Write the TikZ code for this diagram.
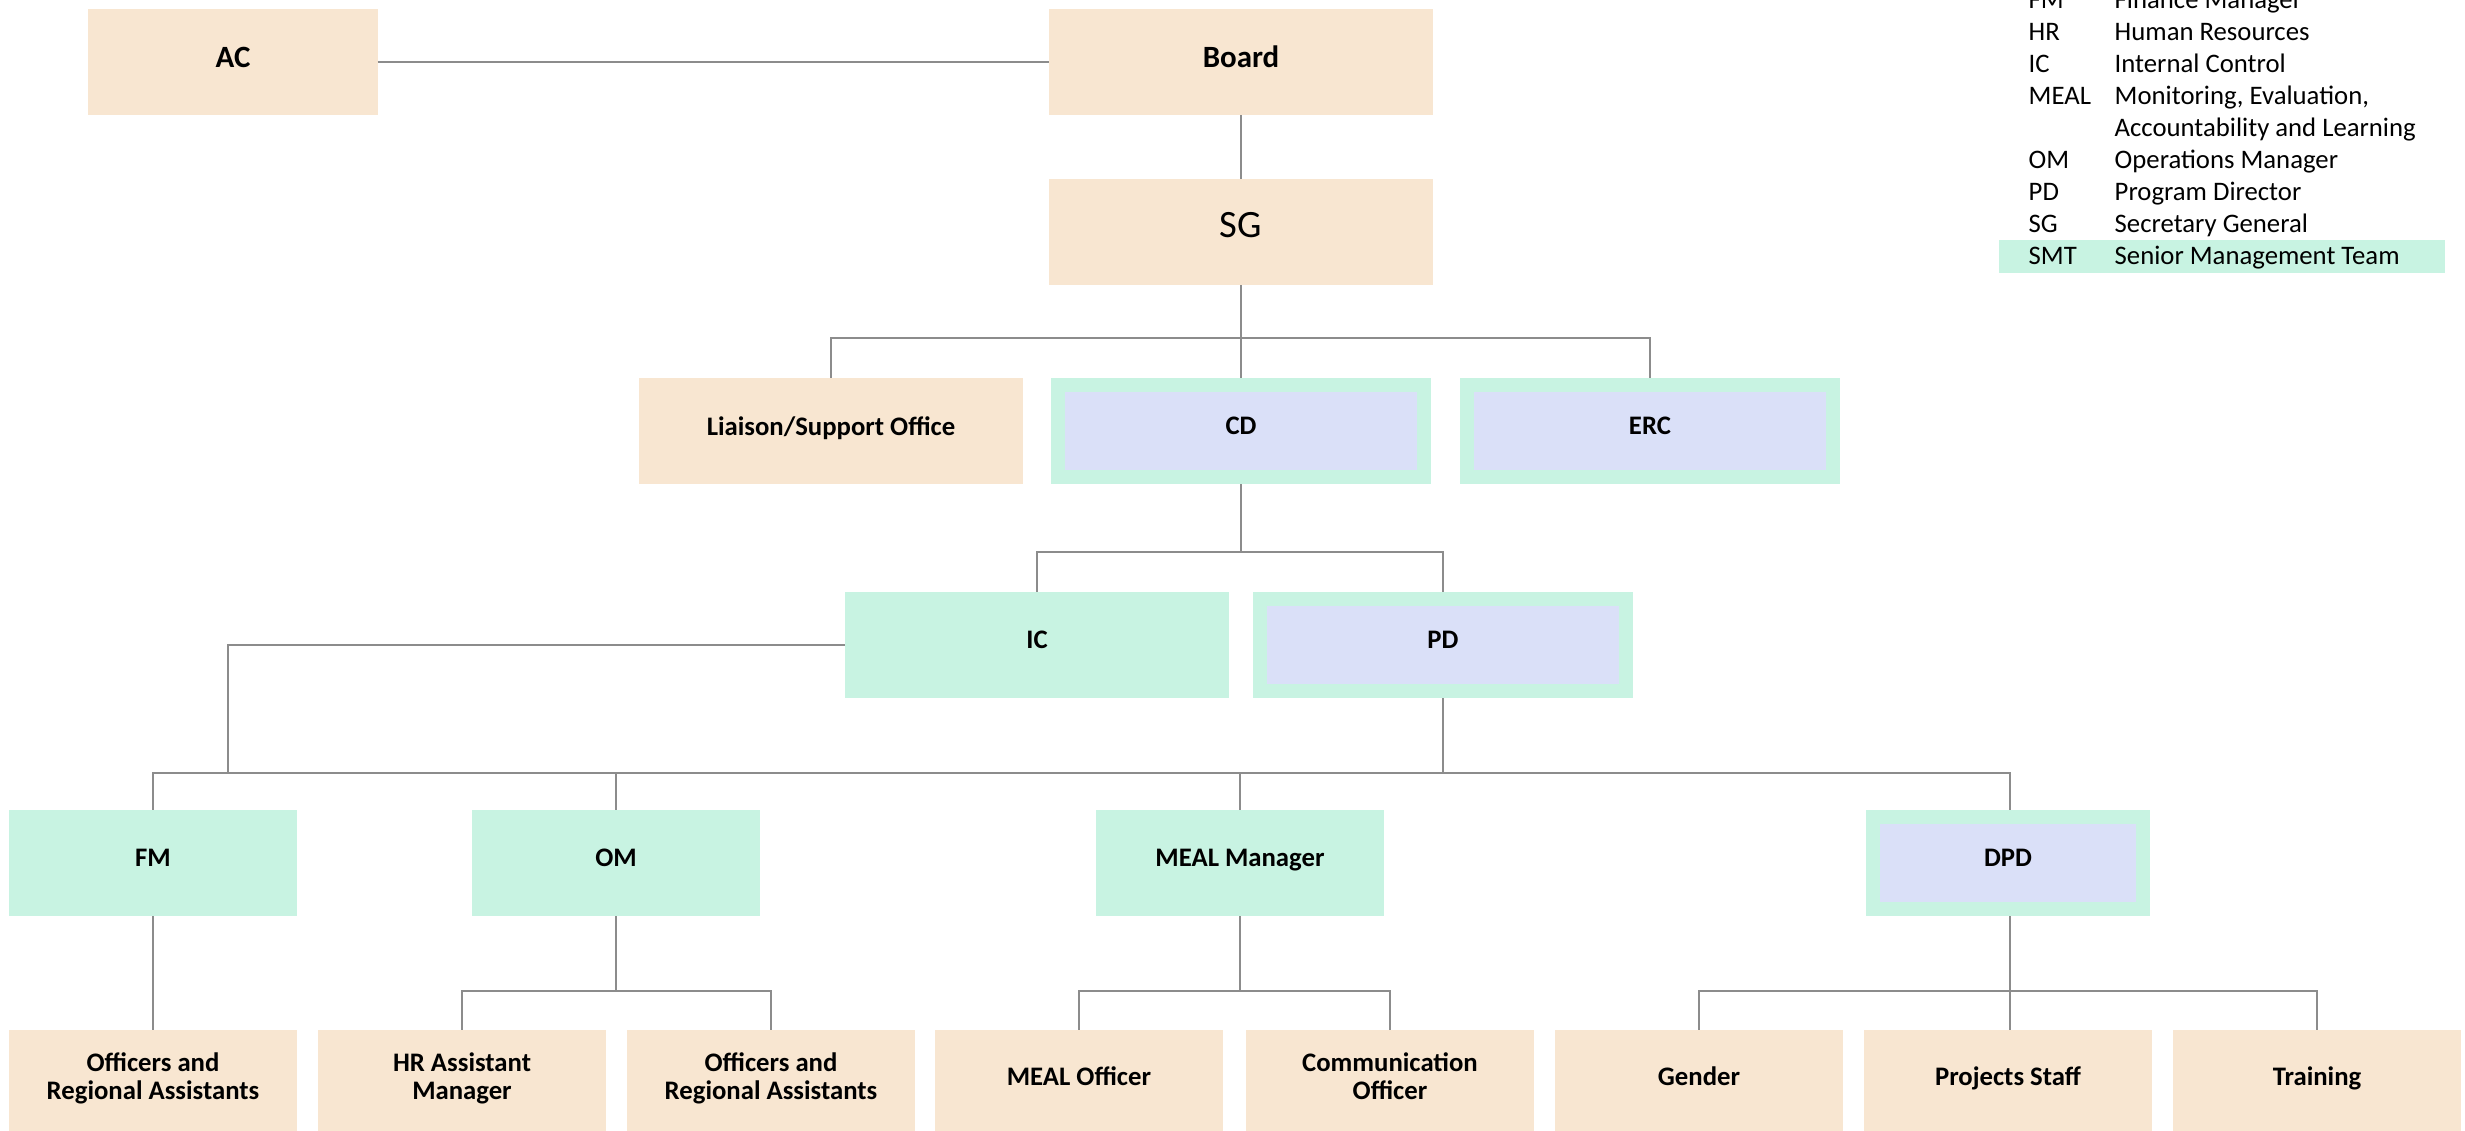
\documentclass[tikz,border=0pt]{standalone}
\usepackage{fontspec}
\setmainfont{Carlito}
\usepackage{tikz}

\definecolor{peach}{RGB}{248,230,209}
\definecolor{mint}{RGB}{200,243,226}
\definecolor{lav}{RGB}{218,224,248}
\definecolor{linegray}{RGB}{140,140,140}

\begin{document}
\begin{tikzpicture}[x=0.01cm, y=-0.01cm,
    peachbox/.style={fill=peach, minimum width=2.88cm, minimum height=1.06cm, inner sep=0pt, outer sep=0pt,
      align=center, text depth=0.1cm, font=\fontsize{7.6}{7.9}\selectfont\bfseries},
    mintbox/.style={peachbox, fill=mint},
    lavbox/.style={peachbox, draw=mint, line width=0.14cm, fill=lav, outer sep=0.07cm,
      minimum width=3.66cm, minimum height=0.92cm},
    lowbox/.style={peachbox, minimum height=1.02cm},
    wide/.style={minimum width=3.84cm},
    conn/.style={draw=linegray, line width=0.02cm},
    legend/.style={anchor=base west, inner sep=0pt, font=\fontsize{7.6}{9}\selectfont}]
        \clip (0,0) rectangle (2465,1131);
        \node[peachbox, minimum width=2.89cm, font=\fontsize{8.8}{10}\selectfont\bfseries] (ac) at (233,62) {AC};
        \node[peachbox, wide, font=\fontsize{8.8}{10}\selectfont\bfseries] (board) at (1241,62) {Board};
        \node[peachbox, wide, text depth=0.15cm, font=\fontsize{11}{12}\selectfont] (sg) at (1241,232) {SG};
        \node[peachbox, wide] (liaison) at (831,431) {Liaison/Support Office};
        \node[lavbox] (cd) at (1241,431) {CD};
        \node[lavbox] (erc) at (1650,431) {ERC};
        \node[mintbox, wide] (ic) at (1037,645) {IC};
        \node[lavbox] (pd) at (1443,645) {PD};
        \node[mintbox] (fm) at (153,863) {FM};
        \node[mintbox] (om) at (616,863) {OM};
        \node[mintbox] (mealmgr) at (1240,863) {MEAL Manager};
        \node[lavbox, minimum width=2.69cm] (dpd) at (2008,863) {DPD};
        \node[lowbox] (offfm) at (153,1081) {Officers and\\Regional Assistants};
        \node[lowbox] (hrasst) at (462,1081) {HR Assistant\\Manager};
        \node[lowbox] (offom) at (771,1081) {Officers and\\Regional Assistants};
        \node[lowbox] (mealoff) at (1079,1081) {MEAL Officer};
        \node[lowbox] (commoff) at (1390,1081) {Communication\\Officer};
        \node[lowbox] (gender) at (1699,1081) {Gender};
        \node[lowbox] (projects) at (2008,1081) {Projects Staff};
        \node[lowbox] (training) at (2317,1081) {Training};
        \coordinate (sgbus) at (1241,338);
        \coordinate (cdbus) at (1241,552);
        \coordinate (icdrop) at (228,773);
        \coordinate (mainbar) at (2010,773);
        \coordinate (ombus) at (616,991);
        \coordinate (mealbus) at (1240,991);
        \coordinate (dpdbus) at (2010,991);
        \draw[conn] (ac) -- (board);
        \draw[conn] (board) -- (sg);
        \draw[conn] (sg) -- (sgbus) -- (cd);
        \draw[conn] (liaison.north) |- (sgbus) -| (erc.north);
        \draw[conn] (cd) -- (cdbus);
        \draw[conn] (ic.north) |- (cdbus) -| (pd.north);
        \draw[conn] (ic.west) -| (icdrop);
        \draw[conn] (pd) -- (pd |- mainbar);
        \draw[conn] (fm.north) |- (mainbar) -- (mainbar |- dpd.north);
        \draw[conn] (om) -- (om |- mainbar);
        \draw[conn] (mealmgr) -- (mealmgr |- mainbar);
        \draw[conn] (fm) -- (offfm);
        \draw[conn] (om) -- (ombus);
        \draw[conn] (hrasst.north) |- (ombus) -| (offom.north);
        \draw[conn] (mealmgr) -- (mealbus);
        \draw[conn] (mealoff.north) |- (mealbus) -| (commoff.north);
        \draw[conn] (dpdbus |- dpd.south) -- (dpdbus) -- (dpdbus |- projects.north);
        \draw[conn] (gender.north) |- (dpdbus) -| (training.north);
        \fill[mint] (1999,240) rectangle (2445,273);
        \foreach \ab/\txt [count=\i] in {FM/Finance Manager, HR/Human Resources, IC/Internal Control,
            MEAL/{Monitoring, Evaluation,}, /Accountability and Learning, OM/Operations Manager,
            PD/Program Director, SG/Secretary General, SMT/Senior Management Team} {
          \node[legend] (lgab\i) at (2028,-23+32*\i) {\ab};
          \node[legend] (lgtx\i) at (2114,-23+32*\i) {\txt};
        }
      \end{tikzpicture}
\end{document}
